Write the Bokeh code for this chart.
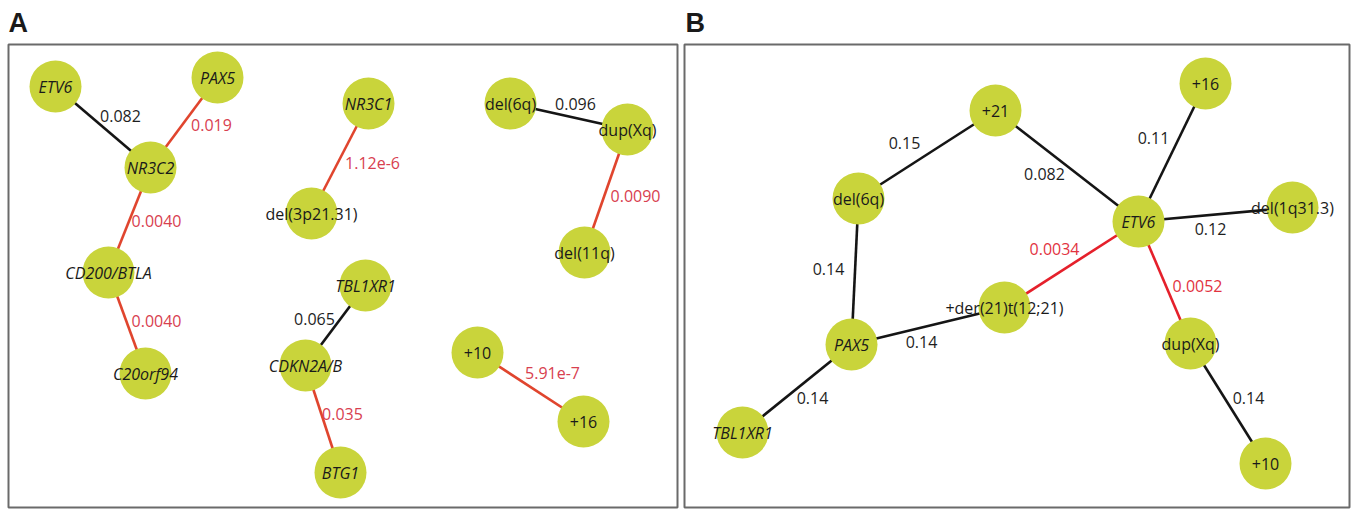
from bokeh.plotting import figure
from bokeh.models import Range1d, ColumnDataSource
from bokeh.core.properties import value
from bokeh.embed import file_html
from bokeh.resources import INLINE

# ---------------- Data: panel A (pairwise network) ----------------
a_nodes = ["ETV6", "PAX5", "NR3C2", "CD200/BTLA", "C20orf94", "NR3C1", "del(3p21.31)",
           "TBL1XR1", "CDKN2A/B", "BTG1", "del(6q)", "dup(Xq)", "del(11q)", "+10", "+16"]
a_src = ["ETV6", "PAX5", "NR3C2", "CD200/BTLA", "NR3C1", "TBL1XR1", "CDKN2A/B",
         "del(6q)", "dup(Xq)", "+10"]
a_dst = ["NR3C2", "NR3C2", "CD200/BTLA", "C20orf94", "del(3p21.31)", "CDKN2A/B", "BTG1",
         "dup(Xq)", "del(11q)", "+16"]
a_pval = [0.082, 0.019, 0.0040, 0.0040, 1.12e-6, 0.065, 0.035, 0.096, 0.0090, 5.91e-7]
a_plab = ["0.082", "0.019", "0.0040", "0.0040", "1.12e-6", "0.065", "0.035", "0.096", "0.0090", "5.91e-7"]

# ---------------- Data: panel B (network) ----------------
b_nodes = ["+21", "del(6q)", "PAX5", "TBL1XR1", "+der(21)t(12;21)", "ETV6", "+16",
           "del(1q31.3)", "dup(Xq)", "+10"]
b_src = ["+21", "+21", "+16", "ETV6", "ETV6", "ETV6", "dup(Xq)", "del(6q)", "PAX5", "PAX5"]
b_dst = ["del(6q)", "ETV6", "ETV6", "del(1q31.3)", "+der(21)t(12;21)", "dup(Xq)", "+10",
         "PAX5", "+der(21)t(12;21)", "TBL1XR1"]
b_pval = [0.15, 0.082, 0.11, 0.12, 0.0034, 0.0052, 0.14, 0.14, 0.14, 0.14]
b_plab = ["0.15", "0.082", "0.11", "0.12", "0.0034", "0.0052", "0.14", "0.14", "0.14", "0.14"]

genes = {"ETV6", "PAX5", "NR3C2", "CD200/BTLA", "C20orf94", "NR3C1", "TBL1XR1", "CDKN2A/B", "BTG1"}
SIG = 0.05

# ---------------- Layout (node positions & edge-label positions) ----------------
a_pos = {"ETV6": (55, 86), "PAX5": (217, 77), "NR3C2": (150, 167), "CD200/BTLA": (108, 272),
         "C20orf94": (145, 373), "NR3C1": (368, 103), "del(3p21.31)": (311, 213),
         "TBL1XR1": (365, 285), "CDKN2A/B": (305, 365), "BTG1": (340, 472),
         "del(6q)": (510, 103), "dup(Xq)": (627, 129), "del(11q)": (584, 252),
         "+10": (477, 352), "+16": (583, 421)}
a_lab_xy = [(120, 115), (211, 124), (156, 220), (156, 320), (372, 162), (314, 318),
            (342, 413), (575, 103), (635, 195), (552, 372)]

b_pos = {"+21": (995, 110), "del(6q)": (858, 198), "PAX5": (851, 344), "TBL1XR1": (742, 432),
         "+der(21)t(12;21)": (1004, 307), "ETV6": (1138, 221), "+16": (1205, 83),
         "del(1q31.3)": (1292, 207), "dup(Xq)": (1190, 343), "+10": (1265, 463)}
b_lab_xy = [(904, 142), (1044, 173), (1153, 137), (1210, 228), (1054, 248), (1197, 285),
            (1248, 397), (828, 268), (921, 341), (812, 397)]

FONT = "Open Sans"
NODE_FILL = "#c9d43b"
W, H = 1351, 509

p = figure(width=W, height=H, output_backend="svg", toolbar_location=None,
           x_range=Range1d(0, W), y_range=Range1d(H, 0),
           min_border=0, outline_line_color=None)
p.xaxis.visible = False
p.yaxis.visible = False
p.grid.visible = False
p.background_fill_color = "white"

# panel frames
p.quad(left=[8, 684], right=[677, 1349], top=[44, 44], bottom=[507, 507],
       fill_color=None, line_color="#6a6a6a", line_width=2)

# panel letters
p.text(x=[8, 685], y=[22, 22], text=["A", "B"], text_font=value("Liberation Sans"),
       text_font_style="bold", text_font_size="27px", text_color="#1a1a1a",
       text_baseline="alphabetic", text_align="left")


def draw(pos, src, dst, pvals, plabs, lab_xy, red_line, red_text):
    x0 = [pos[s][0] for s in src]
    y0 = [pos[s][1] for s in src]
    x1 = [pos[d][0] for d in dst]
    y1 = [pos[d][1] for d in dst]
    sig = [pv < SIG for pv in pvals]
    lc = [red_line if s else "#151515" for s in sig]
    tc = [red_text if s else "#1e1e1e" for s in sig]
    es = ColumnDataSource(dict(x0=x0, y0=y0, x1=x1, y1=y1, lc=lc))
    p.segment("x0", "y0", "x1", "y1", source=es, line_color="lc", line_width=2.6)

    names = list(pos.keys())
    ns = ColumnDataSource(dict(x=[pos[n][0] for n in names], y=[pos[n][1] for n in names]))
    p.scatter("x", "y", source=ns, size=52, fill_color=NODE_FILL, line_color=None)

    it = [n for n in names if n in genes]
    rm = [n for n in names if n not in genes]
    for group, style in ((it, "italic"), (rm, "normal")):
        src_ = ColumnDataSource(dict(x=[pos[n][0] for n in group], y=[pos[n][1] for n in group],
                                     t=group))
        p.text("x", "y", text="t", source=src_, text_font=value(FONT), text_font_style=style,
               text_font_size="16px", text_color="#1a1a1a", text_align="center",
               text_baseline="middle")

    ls = ColumnDataSource(dict(x=[a for a, b in lab_xy], y=[b for a, b in lab_xy], t=plabs, c=tc))
    p.text("x", "y", text="t", source=ls, text_color="c", text_font=value(FONT),
           text_font_size="16px", text_align="center", text_baseline="middle")


draw(a_pos, a_src, a_dst, a_pval, a_plab, a_lab_xy, "#e0452e", "#d8404f")
draw(b_pos, b_src, b_dst, b_pval, b_plab, b_lab_xy, "#e5202b", "#e2333f")

open("out.html", "w").write(file_html(p, INLINE))
